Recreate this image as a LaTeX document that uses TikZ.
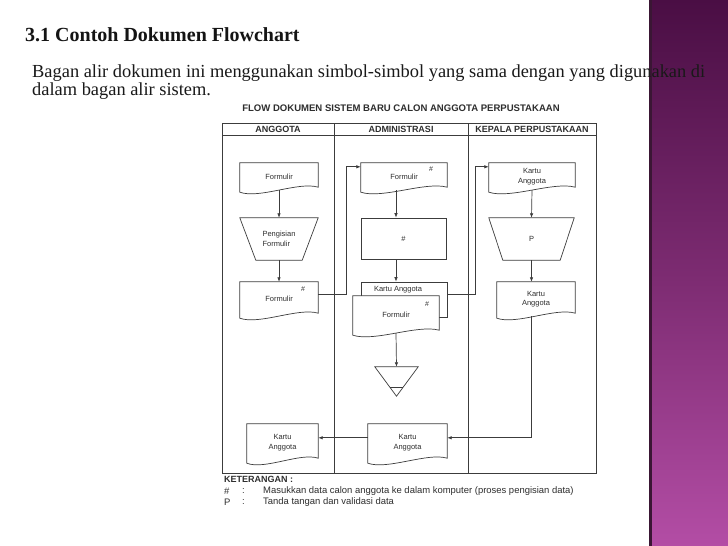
\documentclass[tikz,border=0pt]{standalone}
\usepackage{fontspec}
\setmainfont{Liberation Serif}
\newfontfamily\arialf{Liberation Sans}
\usetikzlibrary{arrows.meta,calc}
\pgfdeclarelayer{back}
\pgfdeclarelayer{mid}
\pgfsetlayers{back,mid,main}

\definecolor{ln}{HTML}{3C3C3C}
\definecolor{tx}{HTML}{2E2E2E}
\definecolor{purpTop}{HTML}{4A0E44}
\definecolor{purpMid}{HTML}{7C2B71}
\definecolor{purpBot}{HTML}{B34DA5}
\definecolor{purpEdge}{HTML}{3A1634}

\tikzset{
  shp/.style={draw=ln, line width=0.7pt},
  frame/.style={draw=ln, line width=0.9pt},
  arr/.style={draw=ln, line width=0.7pt, -{Latex[length=4.5pt,width=3.5pt]}},
  boxn/.style 2 args={minimum width=#1pt, minimum height=#2pt, inner sep=0pt,
    font=\arialf\fontsize{7.5}{9.5}\selectfont, text=tx, align=center},
  lefttxt/.style={align=left},
  hdr/.style={font=\arialf\bfseries\fontsize{9}{10}\selectfont, text=tx, inner sep=0pt},
  hashn/.style={font=\arialf\fontsize{7}{8}\selectfont, text=tx, inner sep=0pt},
  legend/.style={font=\arialf\fontsize{9.45}{10}\selectfont, text=tx, inner sep=0pt, anchor=west},
}

% document symbol with wavy bottom, drawn round a named node
\newcommand{\docshape}[1]{%
  \begin{pgfonlayer}{mid}
  \draw[shp, fill=white] ($(#1.south west)+(0,2)$) -- (#1.north west) -- (#1.north east)
    -- ($(#1.south east)+(0,-3)$)
    .. controls ($(#1.south)!0.5!(#1.south east)+(0,-9)$) and ($(#1.south west)!0.5!(#1.south)+(0,9)$)
    .. ($(#1.south west)+(0,2)$) -- cycle;
  \end{pgfonlayer}}
% manual input trapezoid (wide top)
\newcommand{\trapshape}[2]{%
  \draw[shp] (#1.north west) -- (#1.north east) -- ($(#1.south east)+(-#2,0)$)
    -- ($(#1.south west)+(#2,0)$) -- cycle;}

\begin{document}
\begin{tikzpicture}[x=1pt,y=-1pt]
\useasboundingbox (0,0) rectangle (728,546);
\begin{pgfonlayer}{back}
\fill[white] (0,0) rectangle (728,546);
% purple side bar
\shade[top color=purpTop, bottom color=purpBot, middle color=purpMid] (649,0) rectangle (728,546);
\fill[purpEdge] (649,0) rectangle (651.5,546);
% swimlane frame
\draw[frame] (222,123) rectangle (596,473);
\draw[frame] (222,135) -- (596,135);
\draw[frame] (334,123) -- (334,473);
\draw[frame] (468,123) -- (468,473);
\end{pgfonlayer}

% slide texts
\node[anchor=base west, inner sep=0pt, text=black!92,
  font=\rmfamily\bfseries\fontsize{20}{24}\selectfont] (title) at (25,41) {3.1 Contoh Dokumen Flowchart};
\node[anchor=base west, inner sep=0pt, text=black!90,
  font=\rmfamily\fontsize{18.4}{20}\selectfont] (para1) at (32,77)
  {Bagan alir dokumen ini menggunakan simbol-simbol yang sama dengan yang digunakan di};
\node[anchor=base west, inner sep=0pt, text=black!90,
  font=\rmfamily\fontsize{18.4}{20}\selectfont] (para2) at (32,95.5) {dalam bagan alir sistem.};

% diagram title
\node[font=\arialf\bfseries\fontsize{9.55}{10}\selectfont, text=tx, inner sep=0pt] (ftitle) at (401,108)
  {FLOW DOKUMEN SISTEM BARU CALON ANGGOTA PERPUSTAKAAN};

\node[hdr] (h1) at (278,129.5) {ANGGOTA};
\node[hdr] (h2) at (401,129.5) {ADMINISTRASI};
\node[hdr] (h3) at (532,129.5) {KEPALA PERPUSTAKAAN};

% ---- ANGGOTA column
\node[boxn={78}{27}] (f1) at (279,176.5) {Formulir};
\docshape{f1}
\node[boxn={78}{42}, lefttxt] (t1) at (279,239) {Pengisian\\Formulir};
\trapshape{t1}{16}
\node[boxn={78}{34}] (f2) at (279,299) {Formulir};
\docshape{f2}
\node[hashn] (f2h) at (303,289) {\#};
\node[boxn={71}{37}] (k1) at (282.5,442.5) {Kartu\\Anggota};
\docshape{k1}

% ---- ADMINISTRASI column
\node[boxn={86}{27}] (f3) at (404,176.5) {Formulir};
\docshape{f3}
\node[hashn] (f3h) at (431,169) {\#};
\node[boxn={85}{41}, shp] (p1) at (403.5,238.5) {\#};
\begin{pgfonlayer}{back}
\node[boxn={86}{35}, shp, fill=white] (ka) at (404,299.5) {};
\end{pgfonlayer}
\node[boxn={60}{9}] (kal) at (398,290) {Kartu Anggota};
\node[boxn={86}{37}] (fm) at (396,314.5) {Formulir};
\docshape{fm}
\node[hashn] (fmh) at (427,304) {\#};
\node[boxn={43}{29}] (tri) at (396.5,381.5) {};
\draw[shp] (tri.north west) -- (tri.north east) -- (tri.south) -- cycle;
\draw[shp] ($(tri.north west)!0.69!(tri.south)$) -- ($(tri.north east)!0.69!(tri.south)$);
\node[boxn={79}{37}] (k2) at (407.5,442.5) {Kartu\\Anggota};
\docshape{k2}

% ---- KEPALA PERPUSTAKAAN column
\node[boxn={86}{27}] (k3) at (532,176.5) {Kartu\\Anggota};
\docshape{k3}
\node[boxn={85}{42}] (t2) at (531.5,239) {P};
\trapshape{t2}{14}
\node[boxn={78}{34}] (k4) at (536,299) {Kartu\\Anggota};
\docshape{k4}

% ---- connectors
\draw[arr] (f1.south) -- (t1.north);
\draw[arr] (t1.south) -- (f2.north);
\draw[arr] ($(f2.north east)+(0,13)$) -- ++(28,0) |- ($(f3.north west)+(0,4)$);
\draw[arr] (f3.south -| fm.north) -- (p1.north -| fm.north);
\draw[arr] (p1.south -| fm.north) -- (ka.north -| fm.north);
\draw[arr] (fm.south) -- (tri.north);
\draw[arr] ($(ka.north east)+(0,13)$) -- ++(28,0) |- ($(k3.north west)+(0,4)$);
\draw[arr] (k3.south) -- (t2.north);
\draw[arr] (t2.south) -- (t2.south |- k4.north);
\draw[arr] (k4.south -| t2.south) |- ($(k2.north east)+(0,14)$);
\draw[arr] ($(k2.north west)+(0,14)$) -- ($(k1.north east)+(0,14)$);

% ---- legend
\node[legend, font=\arialf\bfseries\fontsize{9}{10}\selectfont] (ket) at (224,479.5) {KETERANGAN :};
\node[legend] (lh) at (224,491) {\#};
\node[legend] (lhc) at (242,491) {:};
\node[legend] (lht) at (263,491) {Masukkan data calon anggota ke dalam komputer (proses pengisian data)};
\node[legend] (lp) at (224,502) {P};
\node[legend] (lpc) at (242,502) {:};
\node[legend] (lpt) at (263,502) {Tanda tangan dan validasi data};
\end{tikzpicture}
\end{document}
